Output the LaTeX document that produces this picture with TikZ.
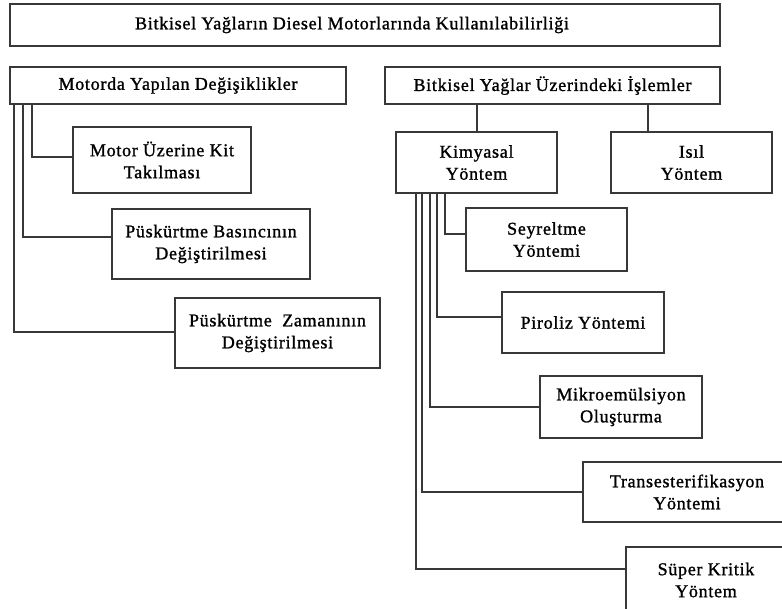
\documentclass[tikz,border=0pt]{standalone}
\usepackage{fontspec}
\setmainfont{Liberation Serif}[LetterSpace=4,FakeBold=1.2]
\begin{document}
\begin{tikzpicture}[x=1pt,y=-1pt,
  box/.style={draw=black!78, line width=1.4pt, align=center, inner sep=0pt,
    font=\fontsize{18}{22}\selectfont},
  conn/.style={draw=black!78, line width=1.3pt}]
\useasboundingbox (0,0) rectangle (782,608);
\clip (0,0) rectangle (782,608);
\fill[white] (0,0) rectangle (782,608);

\node[box, minimum width=710pt, minimum height=42pt] (title) at (365,25)
  {\kern-26pt Bitkisel Yağların Diesel Motorlarında Kullanılabilirliği};
\node[box, minimum width=336pt, minimum height=37pt] (mod) at (178,85.5)
  {Motorda Yapılan Değişiklikler};
\node[box, minimum width=335pt, minimum height=37pt] (isl) at (552.5,85.5)
  {Bitkisel Yağlar Üzerindeki İşlemler};

\node[box, minimum width=178pt, minimum height=66pt] (kit) at (162,160)
  {Motor Üzerine Kit\\Takılması};
\node[box, minimum width=198pt, minimum height=70pt] (bas) at (211,244)
  {Püskürtme Basıncının\\Değiştirilmesi};
\node[box, minimum width=205pt, minimum height=70pt] (zam) at (277.5,333)
  {Püskürtme\ \ Zamanının\\Değiştirilmesi};

\node[box, minimum width=161pt, minimum height=61pt] (kim) at (476.5,162.5)
  {Kimyasal\\Yöntem};
\node[box, minimum width=161pt, minimum height=61pt] (isil) at (691.5,162.5)
  {Isıl\\Yöntem};
\node[box, minimum width=161pt, minimum height=63pt] (sey) at (546.5,239.5)
  {Seyreltme\\Yöntemi};
\node[box, minimum width=162pt, minimum height=61pt] (pir) at (583,322.5)
  {Piroliz Yöntemi};
\node[box, minimum width=162pt, minimum height=62pt] (mik) at (621,407)
  {Mikroemülsiyon\\Oluşturma};
\node[box, minimum width=208pt, minimum height=60pt] (tra) at (687,492)
  {Transesterifikasyon\\Yöntemi};
\node[box, minimum width=160pt, minimum height=66pt] (sup) at (706,580)
  {Süper Kritik\\Yöntem};

\coordinate (a1) at (32,157);
\coordinate (a2) at (23,237);
\coordinate (a3) at (14,332);
\draw[conn] (mod.south -| a1) |- (kit.west |- a1);
\draw[conn] (mod.south -| a2) |- (bas.west |- a2);
\draw[conn] (mod.south -| a3) |- (zam.west |- a3);

\coordinate (b1) at (477,0);
\coordinate (b2) at (648,0);
\draw[conn] (isl.south -| b1) -- (kim.north -| b1);
\draw[conn] (isl.south -| b2) -- (isil.north -| b2);

\coordinate (c1) at (445,234);
\coordinate (c2) at (437,317);
\coordinate (c3) at (430,407);
\coordinate (c4) at (422,492);
\coordinate (c5) at (416,569);
\draw[conn] (kim.south -| c1) |- (sey.west |- c1);
\draw[conn] (kim.south -| c2) |- (pir.west |- c2);
\draw[conn] (kim.south -| c3) |- (mik.west |- c3);
\draw[conn] (kim.south -| c4) |- (tra.west |- c4);
\draw[conn] (kim.south -| c5) |- (sup.west |- c5);
\end{tikzpicture}
\end{document}
